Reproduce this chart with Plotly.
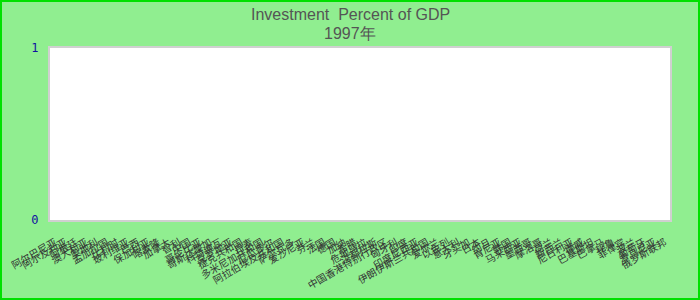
import plotly.graph_objects as go

title_line1 = "Investment  Percent of GDP"
title_line2 = "1997年"

countries = [
    "阿尔巴尼亚", "阿尔及利亚", "阿根廷", "澳大利亚", "奥地利", "孟加拉国",
    "比利时", "玻利维亚", "巴西", "保加利亚", "喀麦隆", "加拿大",
    "智利", "中国", "哥伦比亚", "哥斯达黎加", "科特迪瓦", "克罗地亚",
    "捷克共和国", "丹麦", "多米尼加共和国", "厄瓜多尔", "阿拉伯埃及共和国", "萨尔瓦多",
    "爱沙尼亚", "芬兰", "法国", "德国", "加纳", "希腊",
    "危地马拉", "洪都拉斯", "中国香港特别行政区", "匈牙利", "印度", "印度尼西亚",
    "伊朗伊斯兰共和国", "爱尔兰", "以色列", "意大利", "牙买加", "日本",
    "约旦", "肯尼亚", "韩国", "马来西亚", "墨西哥", "摩洛哥",
    "荷兰", "新西兰", "尼日利亚", "挪威", "巴基斯坦", "巴拿马",
    "秘鲁", "菲律宾", "波兰", "葡萄牙", "罗马尼亚", "俄罗斯联邦",
]
# no bars are visible in the chart: values missing
investment_pct = [None] * len(countries)

fig = go.Figure(go.Bar(x=countries, y=investment_pct, marker_color="#4472c4"))

L, R, T, B = 50, 30, 48, 80
W, H = 700, 300
pw, ph = W - L - R, H - T - B

title_font = dict(family="Liberation Sans, Arial", size=16, color="#555555")
title_x = (W / 2 - L) / pw

fig.update_layout(
    width=W, height=H,
    margin=dict(l=L, r=R, t=T, b=B, pad=0, autoexpand=False),
    paper_bgcolor="#90ee90",
    plot_bgcolor="#ffffff",
    showlegend=False,
    annotations=[
        dict(text=title_line1, xref="paper", yref="paper", x=title_x, y=1 + (T - 14) / ph,
             xanchor="center", yanchor="middle", showarrow=False, font=title_font),
        dict(text=title_line2, xref="paper", yref="paper", x=title_x, y=1 + (T - 33) / ph,
             xanchor="center", yanchor="middle", showarrow=False, font=title_font),
    ],
    xaxis=dict(
        type="category", automargin=False,
        categoryorder="array", categoryarray=countries,
        range=[-0.5, len(countries) - 0.5],
        tickmode="linear", tick0=0, dtick=1,
        tickangle=-30,
        tickfont=dict(family="Noto Sans CJK SC", size=10, color="#333333"),
        showgrid=False, zeroline=False,
        showline=True, mirror=True, linecolor="#d0d0d0", linewidth=2,
        ticks="outside", ticklen=11, tickcolor="rgba(0,0,0,0)",
    ),
    yaxis=dict(
        automargin=False,
        range=[0, 1], dtick=1, tick0=0,
        tickfont=dict(family="DejaVu Sans Mono, Liberation Mono", size=12, color="#1010a0"),
        showgrid=False, zeroline=False,
        showline=True, mirror=True, linecolor="#d0d0d0", linewidth=2,
        ticks="outside", ticklen=7, tickcolor="rgba(0,0,0,0)",
    ),
    shapes=[dict(
        type="rect", xref="paper", yref="paper",
        x0=(-L + 1) / pw, x1=1 + (R - 1) / pw,
        y0=(-B + 1) / ph, y1=1 + (T - 1) / ph,
        line=dict(color="#00e000", width=2), fillcolor="rgba(0,0,0,0)",
        layer="above",
    )],
)

fig.write_html("out.html")
